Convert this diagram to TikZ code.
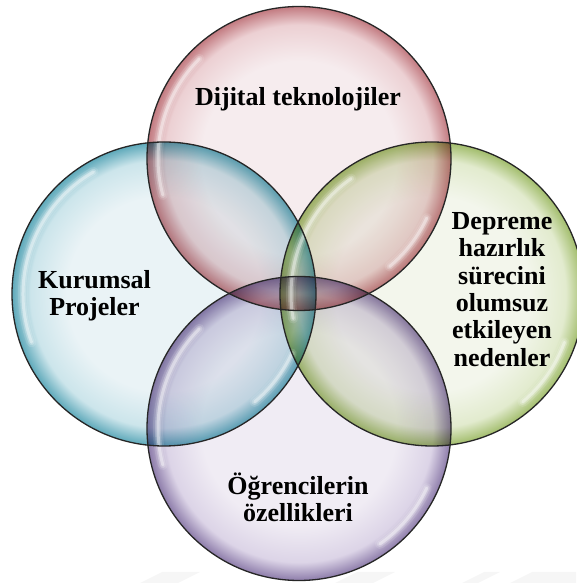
\documentclass[tikz,border=0pt]{standalone}
\usepackage{fontspec}
\setmainfont{Liberation Serif}
\usetikzlibrary{calc}

% bubble colours: centre, ramp, rim
\definecolor{redin}{HTML}{F6ECEE}
\definecolor{redmid}{HTML}{ECD0D3}
\definecolor{redrim}{HTML}{C27A80}
\definecolor{bluein}{HTML}{EAF3F6}
\definecolor{bluemid}{HTML}{CCE5EB}
\definecolor{bluerim}{HTML}{5EA9BA}
\definecolor{greenin}{HTML}{F3F6EC}
\definecolor{greenmid}{HTML}{E2EBCE}
\definecolor{greenrim}{HTML}{A2BD6C}
\definecolor{purplein}{HTML}{F0ECF4}
\definecolor{purplemid}{HTML}{DCD4E7}
\definecolor{purplerim}{HTML}{8D7CAA}

\pgfdeclareradialshading{bubblered}{\pgfpoint{0bp}{0bp}}{color(0bp)=(redin); color(16bp)=(redin); color(22bp)=(redmid); color(25bp)=(redrim); color(50bp)=(redrim)}
\pgfdeclareradialshading{bubbleblue}{\pgfpoint{0bp}{0bp}}{color(0bp)=(bluein); color(16bp)=(bluein); color(22bp)=(bluemid); color(25bp)=(bluerim); color(50bp)=(bluerim)}
\pgfdeclareradialshading{bubblegreen}{\pgfpoint{0bp}{0bp}}{color(0bp)=(greenin); color(16bp)=(greenin); color(22bp)=(greenmid); color(25bp)=(greenrim); color(50bp)=(greenrim)}
\pgfdeclareradialshading{bubblepurple}{\pgfpoint{0bp}{0bp}}{color(0bp)=(purplein); color(16bp)=(purplein); color(22bp)=(purplemid); color(25bp)=(purplerim); color(50bp)=(purplerim)}

\tikzset{
  bubble/.style={blend mode=multiply},
  rim/.style={draw=black!85, line width=1.3pt},
  gloss/.style={draw=white, line cap=round},
  lbl/.style={font=\fontsize{26}{27.3}\selectfont\bfseries, align=center, inner sep=0pt}
}

% soft white highlight along the inside of a bubble
\newcommand{\glossarc}[3]{%
  \foreach \w/\o in {10/0.12,6/0.22,3/0.4}
    \draw[gloss, line width=\w pt, opacity=\o]
      ($(#1)+(#2:141pt)$) arc[start angle=#2, end angle=#3, radius=141pt];
}

\begin{document}
\begin{tikzpicture}[x=1pt,y=1pt]
\useasboundingbox (0,0) rectangle (576,583);

% faint background bands along the bottom
\fill[gray!7] (140,0) -- (162,11) -- (200,11) -- (178,0) -- cycle;
\fill[gray!7] (335,0) -- (357,11) -- (395,11) -- (373,0) -- cycle;
\fill[gray!7] (462,0) -- (484,11) -- (500,11) -- (478,0) -- cycle;
\fill[gray!7] (510,0) -- (532,11) -- (576,11) -- (576,0) -- cycle;

\def\r{152pt}
\coordinate (top) at (299,424.5);
\coordinate (left) at (164,289);
\coordinate (right) at (432,289);
\coordinate (bottom) at (299,154.5);

% translucent bubbles
\shade[shading=bubblered, bubble] (top) circle[radius=\r];
\shade[shading=bubbleblue, bubble] (left) circle[radius=\r];
\shade[shading=bubblegreen, bubble] (right) circle[radius=\r];
\shade[shading=bubblepurple, bubble] (bottom) circle[radius=\r];

% highlights
\glossarc{top}{135}{195}
\glossarc{left}{120}{200}
\glossarc{right}{125}{190}
\glossarc{bottom}{135}{195}
\glossarc{top}{-50}{-25}
\glossarc{left}{-50}{-25}
\glossarc{right}{-50}{-20}
\glossarc{bottom}{-55}{-25}

% outlines
\foreach \c in {top,left,right,bottom}
  \draw[rim] (\c) circle[radius=\r];

% labels
\node[lbl, anchor=base] (ltop) at (298,477) {Dijital teknolojiler};
\node[lbl] (lleft) at (94.5,287.5) {Kurumsal\\Projeler};
\node[lbl] (lright) at (502,293.6) {Depreme\\hazırlık\\sürecini\\olumsuz\\etkileyen\\nedenler};
\node[lbl] (lbottom) at (298,86) {Öğrencilerin\\özellikleri};
\end{tikzpicture}
\end{document}
